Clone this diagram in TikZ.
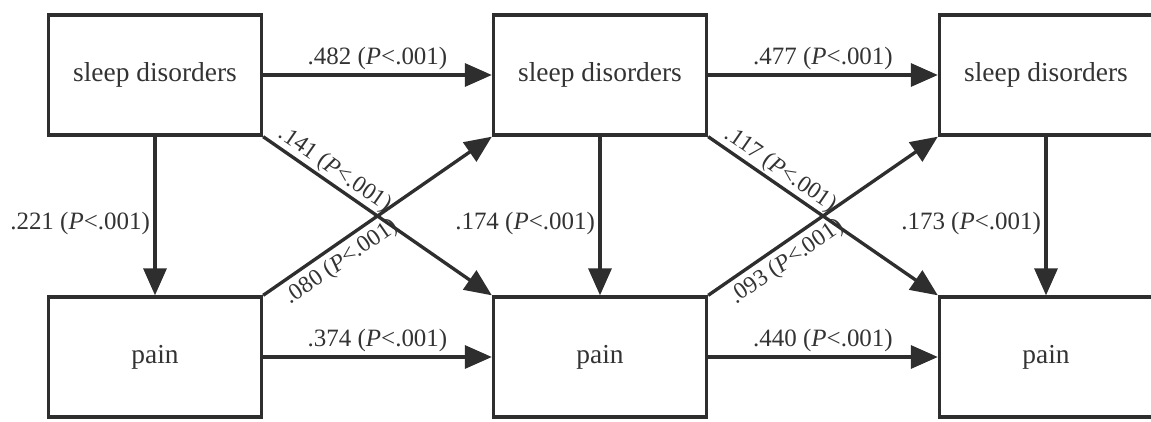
\documentclass[tikz,border=0pt]{standalone}
\usepackage{fontspec}
\setmainfont{Liberation Serif}
\usetikzlibrary{arrows.meta}
\definecolor{lineC}{HTML}{2E2E2E}
\definecolor{textC}{HTML}{333333}
\tikzstyle{nS}=[rectangle,minimum width=4.26cm,minimum height=2.40cm,inner sep=0pt,draw=lineC,line width=1.9pt,text=textC,font=\fontsize{15.6}{18}\selectfont]
\tikzstyle{eS}=[draw=lineC,line width=1.9pt,-{Triangle[length=0.54cm,width=0.46cm]}]
\tikzstyle{eNS}=[inner sep=2pt,text=textC,font=\fontsize{14.2}{16}\selectfont]
\tikzstyle{eNT}=[eNS,inner sep=0.8pt,sloped,font=\fontsize{13.4}{15}\selectfont]
\begin{document}
\begin{tikzpicture}
        \useasboundingbox (0,0) rectangle (23.02,8.42);
                \draw (3.10,6.92) node[nS] (n0) {sleep disorders};
                \draw (12.00,6.92) node[nS] (n1) {sleep disorders};
                \draw (20.92,6.92) node[nS] (n2) {sleep disorders};
                \draw (3.10,1.28) node[nS] (n3) {pain};
                \draw (12.00,1.28) node[nS] (n4) {pain};
                \draw (20.92,1.28) node[nS] (n5) {pain};
                \path
                    (n0) edge[eS] node[eNS,above]{.482 (\textit{P}<.001)} (n1)
                    (n1) edge[eS] node[eNS,above]{.477 (\textit{P}<.001)} (n2)
                    (n3) edge[eS] node[eNS,above]{.374 (\textit{P}<.001)} (n4)
                    (n4) edge[eS] node[eNS,above]{.440 (\textit{P}<.001)} (n5)
                    (n0) edge[eS] node[eNS,left,pos=0.55]{.221 (\textit{P}<.001)} (n3)
                    (n1) edge[eS] node[eNS,left,pos=0.55]{.174 (\textit{P}<.001)} (n4)
                    (n2) edge[eS] node[eNS,left,pos=0.55]{.173 (\textit{P}<.001)} (n5)
                    (n0.south east) edge[eS] node[eNT,above,pos=0.28]{.141 (\textit{P}<.001)} (n4.north west)
                    (n1.south east) edge[eS] node[eNT,above,pos=0.28]{.117 (\textit{P}<.001)} (n5.north west)
                    (n3.north east) edge[eS] node[eNT,below,pos=0.30,inner sep=3pt]{.080 (\textit{P}<.001)} (n1.south west)
                    (n4.north east) edge[eS] node[eNT,below,pos=0.30,inner sep=3pt]{.093 (\textit{P}<.001)} (n2.south west)
                ;
        \end{tikzpicture}
\end{document}
